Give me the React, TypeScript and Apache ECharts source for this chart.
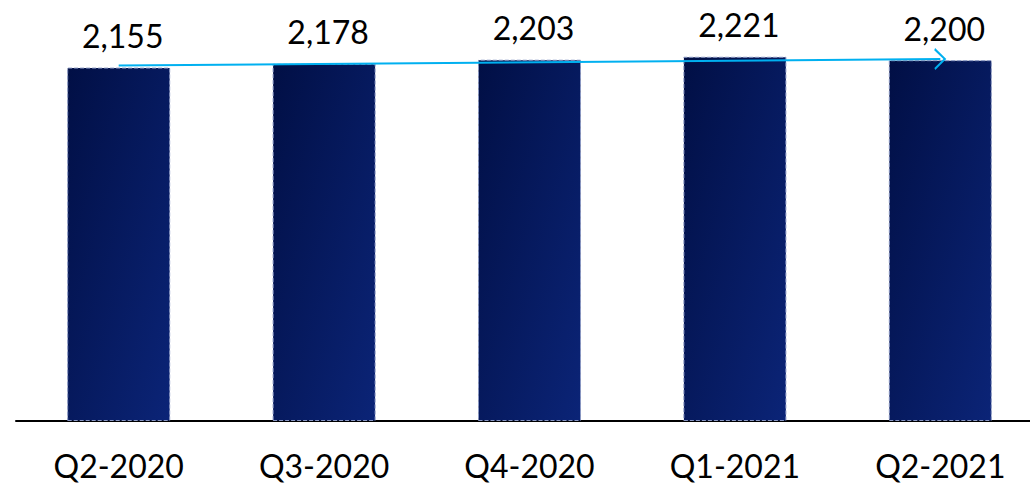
import React, { useEffect, useRef } from "react";
import * as echarts from "echarts";

const categories = ["Q2-2020", "Q3-2020", "Q4-2020", "Q1-2021", "Q2-2021"];
const values = [2155, 2178, 2203, 2221, 2200];
const trendStart = 2168;
const trendEnd = 2207;

export default function App() {
  const ref = useRef<HTMLDivElement>(null);
  useEffect(() => {
    if (!ref.current) return;
    const chart = echarts.init(ref.current, null, { renderer: "svg" });
    const font = "Lato, 'Noto Sans', sans-serif";
    chart.setOption({
      animation: false,
      grid: { left: 16, right: 2, top: 11, bottom: 64 },
      xAxis: {
        type: "category",
        data: categories,
        axisLine: { show: true, lineStyle: { color: "#000", width: 2 } },
        axisTick: { show: false },
        axisLabel: { fontSize: 32, lineHeight: 32, color: "#000", fontFamily: font, margin: 28 },
      },
      yAxis: {
        type: "value",
        min: 0,
        max: 2500,
        show: false,
        splitLine: { show: false },
      },
      series: [
        {
          type: "bar",
          data: values,
          barWidth: 103,
          itemStyle: {
            color: new echarts.graphic.LinearGradient(0, 0, 1, 1, [
              { offset: 0, color: "#010F45" },
              { offset: 1, color: "#0B2477" },
            ]),
            borderColor: "#8A98C4",
            borderWidth: 1,
            borderType: "dashed",
          },
          label: {
            show: true,
            position: "top",
            distance: 16,
            offset: [4, 0],
            fontSize: 32,
            lineHeight: 32,
            color: "#000",
            fontFamily: font,
            formatter: (p: any) => p.value.toLocaleString("en-US"),
          },
          markLine: {
            silent: true,
            symbol: ["none", "path://M0,10 L5,0 L10,10 L9,10.8 L5,2.6 L1,10.8 Z"],
            symbolSize: [22, 12],
            label: { show: false },
            lineStyle: { color: "#00B0F0", width: 2, type: "solid" },
            data: [
              [
                { coord: [categories[0], trendStart] },
                { coord: [categories[categories.length - 1], trendEnd] },
              ],
            ],
          },
        },
      ],
    });
    return () => chart.dispose();
  }, []);
  return (
    <div style={{ position: "fixed", left: 0, top: 0, width: 1030, height: 485, overflow: "hidden", background: "#fff" }}>
      <div ref={ref} style={{ width: 1045, height: 485 }} />
    </div>
  );
}
